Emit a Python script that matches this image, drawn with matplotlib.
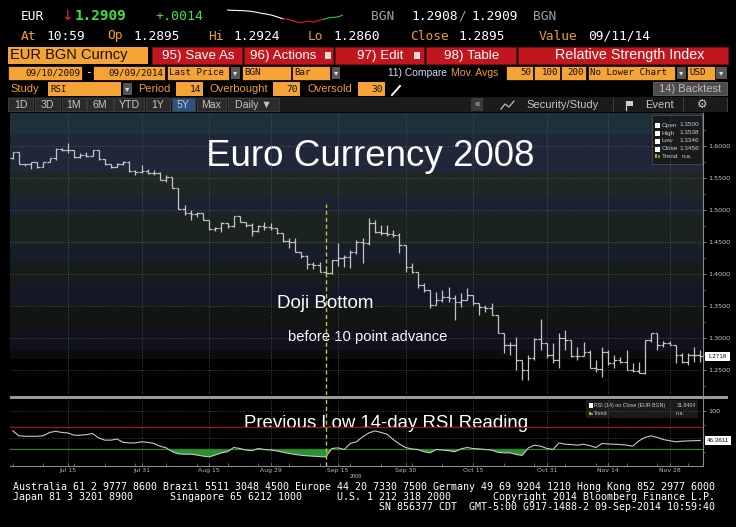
import numpy as np
import pandas as pd
import matplotlib
matplotlib.use("Agg")
import matplotlib.pyplot as plt
from matplotlib.patches import Rectangle
from matplotlib.ticker import FixedLocator, MultipleLocator

W, H = 736, 527

# ---- data ----
dates = pd.bdate_range("2008-07-02", periods=113)

opens = [1.5807, 1.5911, 1.5714, 1.5714, 1.5745, 1.5677, 1.5755, 1.5807, 1.5953, 1.5937,
         1.5937, 1.5833, 1.5859, 1.5849, 1.5937, 1.5797, 1.5714, 1.5677, 1.5714, 1.5755,
         1.5609, 1.5589, 1.5609, 1.5573, 1.5573, 1.5469, 1.5521, 1.5349, 1.5016, 1.4948,
         1.4937, 1.4948, 1.4844, 1.4703, 1.4714, 1.4792, 1.4755, 1.4911, 1.4818, 1.4766,
         1.4672, 1.4755, 1.4740, 1.4714, 1.4635, 1.4516, 1.4505, 1.4349, 1.4286, 1.4151,
         1.4141, 1.4026, 1.4010, 1.4219, 1.4245, 1.4271, 1.4339, 1.4505, 1.4479, 1.4792,
         1.4651, 1.4635, 1.4620, 1.4609, 1.4453, 1.4115, 1.4036, 1.3828, 1.3750, 1.3516,
         1.3594, 1.3646, 1.3620, 1.3568, 1.3594, 1.3672, 1.3542, 1.3490, 1.3464, 1.3359,
         1.3073, 1.2891, 1.2891, 1.2656, 1.2500, 1.2682, 1.2979, 1.2927, 1.2734, 1.2656,
         1.2995, 1.2969, 1.2719, 1.2719, 1.2786, 1.2526, 1.2510, 1.2786, 1.2604, 1.2656,
         1.2630, 1.2500, 1.2490, 1.2458, 1.2969, 1.3073, 1.2891, 1.2917, 1.2891, 1.2734,
         1.2630, 1.2734, 1.2734]
highs = [1.5911, 1.5911, 1.5724, 1.5755, 1.5745, 1.5755, 1.5807, 1.5964, 1.5974, 1.6042,
         1.5937, 1.5885, 1.5901, 1.5937, 1.5937, 1.5797, 1.5714, 1.5729, 1.5766, 1.5766,
         1.5625, 1.5703, 1.5636, 1.5625, 1.5589, 1.5547, 1.5521, 1.5349, 1.5078, 1.5000,
         1.4974, 1.4948, 1.4844, 1.4740, 1.4807, 1.4792, 1.4911, 1.4911, 1.4818, 1.4792,
         1.4766, 1.4818, 1.4792, 1.4714, 1.4635, 1.4557, 1.4557, 1.4349, 1.4297, 1.4193,
         1.4193, 1.4063, 1.4219, 1.4479, 1.4297, 1.4375, 1.4531, 1.4557, 1.4870, 1.4844,
         1.4766, 1.4766, 1.4688, 1.4635, 1.4453, 1.4167, 1.4036, 1.3854, 1.3750, 1.3724,
         1.3750, 1.3802, 1.3672, 1.3698, 1.3776, 1.3672, 1.3542, 1.3516, 1.3542, 1.3359,
         1.3073, 1.2943, 1.3021, 1.2656, 1.2734, 1.2995, 1.3292, 1.2927, 1.2917, 1.3073,
         1.3125, 1.2969, 1.2864, 1.2943, 1.2813, 1.2656, 1.2864, 1.2813, 1.2734, 1.2708,
         1.2813, 1.2604, 1.2630, 1.2969, 1.3083, 1.3083, 1.2958, 1.2958, 1.2891, 1.2760,
         1.2771, 1.2864, 1.2813]
lows = [1.5797, 1.5714, 1.5693, 1.5636, 1.5661, 1.5670, 1.5745, 1.5781, 1.5922, 1.5885,
        1.5818, 1.5818, 1.5828, 1.5840, 1.5781, 1.5703, 1.5661, 1.5670, 1.5703, 1.5599,
        1.5547, 1.5573, 1.5557, 1.5547, 1.5469, 1.5432, 1.5339, 1.5016, 1.4922, 1.4844,
        1.4896, 1.4844, 1.4688, 1.4672, 1.4651, 1.4714, 1.4740, 1.4807, 1.4740, 1.4599,
        1.4661, 1.4688, 1.4688, 1.4620, 1.4505, 1.4401, 1.4349, 1.4245, 1.4078, 1.4078,
        1.4026, 1.3995, 1.3995, 1.4130, 1.4115, 1.4089, 1.4310, 1.4167, 1.4453, 1.4635,
        1.4609, 1.4599, 1.4583, 1.4323, 1.4036, 1.4010, 1.3776, 1.3724, 1.3464, 1.3516,
        1.3568, 1.3568, 1.3281, 1.3490, 1.3594, 1.3516, 1.3359, 1.3411, 1.3359, 1.3073,
        1.2760, 1.2734, 1.2500, 1.2344, 1.2344, 1.2656, 1.2813, 1.2682, 1.2604, 1.2526,
        1.2813, 1.2708, 1.2656, 1.2719, 1.2526, 1.2474, 1.2396, 1.2578, 1.2526, 1.2604,
        1.2500, 1.2474, 1.2448, 1.2440, 1.2943, 1.2813, 1.2864, 1.2891, 1.2604, 1.2604,
        1.2578, 1.2630, 1.2630]
closes = [1.5911, 1.5714, 1.5714, 1.5745, 1.5677, 1.5755, 1.5807, 1.5953, 1.5937, 1.5937,
          1.5833, 1.5859, 1.5849, 1.5937, 1.5797, 1.5714, 1.5677, 1.5714, 1.5755, 1.5609,
          1.5589, 1.5609, 1.5573, 1.5573, 1.5469, 1.5521, 1.5349, 1.5016, 1.4948, 1.4937,
          1.4948, 1.4844, 1.4703, 1.4714, 1.4792, 1.4755, 1.4911, 1.4818, 1.4766, 1.4672,
          1.4755, 1.4740, 1.4714, 1.4635, 1.4516, 1.4505, 1.4349, 1.4286, 1.4151, 1.4141,
          1.4026, 1.4010, 1.4219, 1.4245, 1.4271, 1.4339, 1.4505, 1.4479, 1.4792, 1.4651,
          1.4635, 1.4620, 1.4609, 1.4453, 1.4115, 1.4036, 1.3828, 1.3750, 1.3516, 1.3594,
          1.3646, 1.3620, 1.3568, 1.3594, 1.3672, 1.3542, 1.3490, 1.3464, 1.3359, 1.3073,
          1.2891, 1.2891, 1.2656, 1.2500, 1.2682, 1.2979, 1.2927, 1.2734, 1.2656, 1.2995,
          1.2969, 1.2719, 1.2719, 1.2786, 1.2526, 1.2510, 1.2786, 1.2604, 1.2656, 1.2630,
          1.2500, 1.2490, 1.2458, 1.2969, 1.3073, 1.2891, 1.2917, 1.2891, 1.2734, 1.2630,
          1.2734, 1.2734, 1.2718]

rsi = [64, 55, 54, 54, 54, 55, 61, 63, 61, 60,
       56, 56, 57, 59, 51, 47, 47, 49, 43, 42,
       42, 44, 43, 41, 36, 33, 26, 22, 21.5, 21.5,
       20, 18, 16.6, 20, 24, 26, 33.6, 31.8, 29, 28,
       31.8, 30, 29, 27.5, 25, 23, 21, 19.5, 18.5, 17.8,
       17, 16.6, 31.8, 33, 30, 41, 44, 53, 60, 63.8,
       61, 57.6, 48, 40, 33.6, 31, 30, 26, 24, 30,
       29, 28, 25.8, 31, 33.6, 31.8, 31, 30, 29, 25,
       24, 24, 21, 19.2, 33, 37.8, 36, 32, 30, 42,
       39.6, 39, 37.8, 39.6, 37, 33.6, 41, 40, 39.6, 39,
       38, 36, 45.6, 52, 54.8, 52, 48, 46, 44, 45,
       45.6, 46, 46.4]

tick_dates = ["2008-07-15", "2008-07-31", "2008-08-15", "2008-08-29", "2008-09-15",
              "2008-09-30", "2008-10-15", "2008-10-31", "2008-11-14", "2008-11-28"]
tick_labels = ["Jul 15", "Jul 31", "Aug 15", "Aug 29", "Sep 15",
               "Sep 30", "Oct 15", "Oct 31", "Nov 14", "Nov 28"]
price_ticks = [1.25, 1.30, 1.35, 1.40, 1.45, 1.50, 1.55, 1.60]
price_labels = ["1.2500", "1.3000", "1.3500", "1.4000", "1.4500", "1.5000", "1.5500", "1.6000"]
doji_date = "2008-09-11"

# header sparkline (intraday, screen offsets)
spark_white = [32, 33, 33, 34, 34, 35, 36, 38, 40, 43, 45, 47, 50, 54, 58, 62]
spark_red = [62, 63, 66, 70, 74, 75, 72, 70, 73, 70, 66, 64]
spark_green = [64, 60, 58, 57, 55, 50]

# ---- colours / fonts ----
ORANGE = '#f5a236'
AMBER = '#f09a2c'
RED = '#c2161e'
UI = ['Liberation Sans', 'DejaVu Sans']
MONO = ['DejaVu Sans Mono']
NARROW = ['Liberation Sans', 'DejaVu Sans']

fig = plt.figure(figsize=(W / 100, H / 100), dpi=100, facecolor='black')
bg = fig.add_axes([0, 0, 1, 1])
bg.set_xlim(0, W)
bg.set_ylim(H, 0)
bg.axis('off')


def box(x0, y0, x1, y1, color, ec='none', lw=0, z=1):
    bg.add_patch(Rectangle((x0, y0), x1 - x0, y1 - y0, facecolor=color,
                           edgecolor=ec, linewidth=lw, zorder=z))


def txt(x, y, s, color='white', size=8, ha='left', family=UI, weight='normal', z=5):
    bg.text(x, y, s, color=color, fontsize=size, ha=ha, va='center',
            family=family, fontweight=weight, zorder=z)


# row 1
txt(21, 16, 'EUR', 'white', 9.3, family=MONO)
txt(61, 16, '\u2193', '#e8302a', 10, family=['DejaVu Sans'])
txt(75, 16, '1.2909', '#3fe03f', 10.4, family=MONO, weight='bold')
txt(155, 16, '+.0014', '#3fe03f', 9.6, family=MONO)
txt(371, 16, 'BGN', '#a0a0a0', 9.3, family=MONO)
txt(411, 16, '1.2908', 'white', 9.3, family=MONO)
txt(458, 16, '/', '#a0a0a0', 9.3, family=MONO)
txt(471, 16, '1.2909', 'white', 9.3, family=MONO)
txt(533, 16, 'BGN', '#a0a0a0', 9.3, family=MONO)

sp = fig.add_axes([222 / W, 1 - 24 / H, 126 / W, 16 / H])
sp.axis('off')
nw, nr = len(spark_white), len(spark_red)
sp.plot(range(nw), spark_white, color='white', lw=0.8)
sp.plot(range(nw - 1, nw - 1 + nr), spark_red, color='#e02020', lw=0.8)
sp.plot(range(nw + nr - 2, nw + nr - 2 + len(spark_green)), spark_green, color='#20d020', lw=0.8)
sp.set_ylim(80, 25)

# row 2
for x, s, c in [(21, 'At', AMBER), (46, '10:59', 'white'), (107, 'Op', AMBER), (133, '1.2895', 'white'),
                (208, 'Hi', AMBER), (233, '1.2924', 'white'), (308, 'Lo', AMBER), (333, '1.2860', 'white'),
                (410, 'Close', AMBER), (458, '1.2895', 'white'), (539, 'Value', AMBER),
                (588, '09/11/14', 'white')]:
    txt(x, 36, s, c, 9.3, family=MONO)

# row 3 - buttons
box(8, 47, 148, 64, ORANGE)
txt(10, 55.5, 'EUR BGN Curncy', '#111111', 10.5)
for x0, x1, label, tx in [(152, 242, '95) Save As', 162), (244, 333, '96) Actions', 250),
                          (335, 424, '97) Edit', 357), (426, 516, '98) Table', 444)]:
    box(x0, 47, x1, 64, RED, ec='#7a0a10', lw=0.6)
    txt(tx, 55.5, label, 'white', 9.6)
box(325, 52, 331, 59, '#dddddd', z=2)
box(414, 52, 420, 59, '#dddddd', z=2)
box(518, 47, 728, 64, RED, ec='#7a0a10', lw=0.6)
txt(555, 55.5, 'Relative Strength Index', 'white', 10.3)

# row 4
R4 = 72.5
for x0, x1, label, ha in [(8, 82, '09/10/2009', 'right'), (93, 165, '09/09/2014', 'right'),
                          (167, 229, 'Last Price', 'left'), (242, 291, 'BGN', 'left'),
                          (292, 330, 'Bar', 'left'), (506, 533, '50', 'right'),
                          (534, 560, '100', 'right'), (561, 586, '200', 'right'),
                          (588, 675, 'No Lower Chart', 'left'), (687, 715, 'USD', 'left')]:
    box(x0, 66, x1, 80, ORANGE, ec='black', lw=0.5)
    txt(x1 - 2 if ha == 'right' else x0 + 2, R4, label, '#111111', 6.6, ha=ha, family=MONO)
txt(85, R4, '-', 'white', 8, family=MONO)
for x0, x1 in [(231, 240), (332, 340), (677, 686), (716, 727)]:
    box(x0, 67, x1, 79, '#555555')
    txt((x0 + x1) / 2, R4, '\u25be', '#dddddd', 6, ha='center', family=['DejaVu Sans'])
txt(388, R4, '11) Compare', '#d0d8ff', 7.4)
txt(451, R4, 'Mov. Avgs', AMBER, 7.6)

# row 5
R5 = 89
txt(10, R5, 'Study', AMBER, 8)
txt(138, R5, 'Period', AMBER, 8)
txt(210, R5, 'Overbought', AMBER, 8)
txt(308, R5, 'Oversold', AMBER, 8)
box(48, 82, 121, 96, ORANGE)
txt(50, R5, 'RSI', '#111111', 6.6, family=MONO)
box(123, 83, 132, 95, '#555555')
txt(127.5, R5, '\u25be', '#dddddd', 6, ha='center', family=['DejaVu Sans'])
for x0, x1, label in [(176, 203, '14'), (273, 300, '70'), (358, 385, '30')]:
    box(x0, 82, x1, 96, ORANGE)
    txt(x1 - 2, R5, label, '#111111', 6.8, ha='right', family=MONO)
bg.plot([392, 400], [95, 86], color='white', lw=1.4, zorder=5)
box(653, 82, 727, 95, '#4c4c4c', ec='#777777', lw=0.5)
txt(690, 88.5, '14) Backtest', '#bbbbbb', 8, ha='center')

# row 6 - tab bar
box(8, 97, 728, 112, '#1b1b1b')
for label, x0, x1 in [('1D', 8, 33), ('3D', 35, 60), ('1M', 62, 86), ('6M', 87, 113),
                      ('YTD', 114, 144), ('1Y', 146, 170), ('5Y', 172, 195), ('Max', 197, 226),
                      ('Daily \u25bc', 228, 279)]:
    box(x0, 98, x1, 111, '#2d5286' if label == '5Y' else '#2b2b2b', ec='#454545', lw=0.5)
    txt((x0 + x1) / 2, 104.5, label, '#c4c4c4', 7.6, ha='center')
box(471, 98, 483, 111, '#3a3a3a')
txt(477, 104.5, '\u00ab', '#cccccc', 7, ha='center')
for xs in [613, 683, 727]:
    bg.plot([xs, xs], [98, 111], color='#444444', lw=0.6, zorder=4)
bg.plot([501, 505, 509, 514], [109, 104, 107, 101], color='#bbbbbb', lw=0.9, zorder=5)
txt(526, 104.5, 'Security/Study', '#c4c4c4', 8)
box(626, 101, 633, 106, '#cccccc', z=4)
bg.plot([626, 626], [101, 110], color='#cccccc', lw=0.9, zorder=5)
txt(645, 104.5, 'Event', '#c4c4c4', 8)
txt(702, 104.5, '\u2699', '#cccccc', 8.5, ha='center', family=['DejaVu Sans'])

# chart background bands
bands = [(113, 134, '#1e3039'), (134, 172, '#1f2739'), (172, 197, '#1e2725'), (197, 214, '#1b2333'),
         (214, 245, '#1b2320'), (245, 262, '#171e2b'), (262, 285, '#151c19'), (285, 305, '#141826'),
         (305, 322, '#111613'), (322, 330, '#131313'), (330, 350, '#10111a'), (350, 359, '#0b0d0d')]
for y0, y1, c in bands:
    box(10, y0, 703, y1, c, z=0)
box(10, 396, 728, 398.5, '#9a9a9a', z=3)

x = np.arange(len(dates))
tick_pos = [dates.get_loc(pd.Timestamp(d)) for d in tick_dates]
doji = dates.get_loc(pd.Timestamp(doji_date))
xlim = (-0.44, 112.45)
grid_kw = dict(color='#56606a', lw=0.6, linestyle=(0, (1, 2)))

# ---- price panel ----
ax = fig.add_axes([10 / W, 1 - 395 / H, 693 / W, 282 / H])
ax.set_facecolor('none')
ax.set_xlim(*xlim)
ax.set_ylim(1.2109, 1.6516)
ax.vlines(x, lows, highs, color='#c4c4c4', lw=0.9)
ax.hlines(opens, x - 0.45, x, color='#c4c4c4', lw=0.9)
ax.hlines(closes, x, x + 0.45, color='#c4c4c4', lw=0.9)
for yv in price_ticks:
    ax.axhline(yv, **grid_kw, zorder=0)
for p in tick_pos:
    ax.axvline(p, **grid_kw, zorder=0)
ax.vlines(doji, 1.2109, 1.5094, color='#c3c334', lw=1, linestyles=(0, (3, 2)))
for s in ['top', 'left', 'bottom']:
    ax.spines[s].set_visible(False)
ax.spines['right'].set_color('#8a8a8a')
ax.spines['right'].set_linewidth(0.8)
ax.set_xticks([])
ax.yaxis.tick_right()
ax.yaxis.set_major_locator(FixedLocator(price_ticks))
ax.set_yticklabels(price_labels)
ax.yaxis.set_minor_locator(FixedLocator([t + 0.025 for t in price_ticks] + [1.225]))
ax.tick_params(axis='y', which='major', colors='#8a8a8a', labelcolor='#cccccc',
               labelsize=4.6, length=2.5, width=0.6, pad=1.5)
ax.tick_params(axis='y', which='minor', colors='#8a8a8a', length=1.5, width=0.5)

# ---- RSI panel ----
ax2 = fig.add_axes([10 / W, 1 - 466 / H, 693 / W, 68 / H])
ax2.set_facecolor('none')
ax2.set_xlim(*xlim)
ax2.set_ylim(0, 123.6)
rs = np.array(rsi)
ax2.fill_between(x, rs, 30, where=rs < 30, interpolate=True, color='#2b9230', lw=0)
ax2.axhline(70, color='#96171b', lw=0.9)
ax2.axhline(30, color='#1f8a22', lw=0.9)
for yv in [50, 100]:
    ax2.axhline(yv, **grid_kw, zorder=0)
for p in tick_pos:
    ax2.axvline(p, **grid_kw, zorder=0)
ax2.plot(x, rs, color='#c8c8c8', lw=0.8)
ax2.axvline(doji, color='#c3c334', lw=1, linestyle=(0, (3, 2)))
ax2.spines['top'].set_visible(False)
ax2.spines['left'].set_visible(False)
ax2.spines['right'].set_color('#8a8a8a')
ax2.spines['bottom'].set_color('#8a8a8a')
ax2.spines['right'].set_linewidth(0.8)
ax2.spines['bottom'].set_linewidth(0.8)
ax2.yaxis.tick_right()
ax2.set_yticks([100])
ax2.set_yticklabels(['100'])
ax2.yaxis.set_minor_locator(FixedLocator([25, 75]))
ax2.tick_params(axis='y', which='major', colors='#8a8a8a', labelcolor='#cccccc',
                labelsize=4.6, length=2.5, width=0.6, pad=1.5)
ax2.tick_params(axis='y', which='minor', colors='#8a8a8a', length=1.5, width=0.5)
ax2.set_xticks(tick_pos)
ax2.set_xticklabels(tick_labels)
ax2.xaxis.set_minor_locator(MultipleLocator(5))
ax2.tick_params(axis='x', which='both', colors='#8a8a8a', labelcolor='#bbbbbb',
                labelsize=4.4, length=2, width=0.5, pad=1.5, direction='in')
txt(350, 477, '2008', '#bbbbbb', 4)

# ---- legends and last-value flags ----
box(652, 115, 702, 164, '#181a1c', ec='#4a4a4a', lw=0.6, z=6)
for k, (name, val) in enumerate([('Open', '1.3500'), ('High', '1.3538'), ('Low', '1.3346'),
                                 ('Close', '1.3456')]):
    yy = 125 + k * 8
    box(655, yy - 2.5, 660, yy + 2.5, 'white', z=7)
    txt(662, yy, name, '#cccccc', 4.6, z=7)
    txt(699, yy, val, '#cccccc', 4.6, ha='right', z=7)
box(655, 153.5, 657, 158, '#a8b020', z=7)
box(658, 155, 660, 158, '#3fae3f', z=7)
txt(662, 156, 'Trend', '#cccccc', 4.6, z=7)
txt(682, 156, 'n.a.', '#cccccc', 4.6, z=7)

box(586, 400, 698, 418, '#1a1a1a', z=6)
box(589, 403, 593, 408, 'white', z=7)
txt(594, 405.5, 'RSI (14) on Close (EUR BGN)', '#cccccc', 3.8, z=7)
txt(696, 405.5, '31.8404', '#cccccc', 3.8, ha='right', z=7)
box(589, 412, 590.5, 415, '#a8b020', z=7)
box(591, 413, 592.5, 415, '#3fae3f', z=7)
txt(594, 413.5, 'Trend', '#cccccc', 3.8, z=7)
txt(676, 413.5, 'n.a.', '#cccccc', 3.8, z=7)

box(705, 352, 730, 360.5, 'white', z=6)
txt(717.5, 356.2, '1.2718', '#111111', 4.5, ha='center', z=7)
box(705, 436, 731, 444.5, 'white', z=6)
txt(718, 440.2, '46.3611', '#111111', 4.5, ha='center', z=7)

# ---- annotations ----
txt(370, 157, 'Euro Currency 2008', 'white', 26.5, ha='center', family=NARROW, z=8)
txt(325, 303, 'Doji Bottom', 'white', 13.6, ha='center', family=NARROW, z=8)
txt(368, 337, 'before 10 point advance', 'white', 10.6, ha='center', family=NARROW, z=8)
txt(386, 424, 'Previous Low 14-day RSI Reading', 'white', 13.4, ha='center', family=NARROW, z=8)

# ---- footer ----
txt(13, 487.5, 'Australia 61 2 9777 8600 Brazil 5511 3048 4500 Europe 44 20 7330 7500 '
               'Germany 49 69 9204 1210 Hong Kong 852 2977 6000', 'white', 7.2, family=MONO)
txt(13, 497.5, 'Japan 81 3 3201 8900', 'white', 7.2, family=MONO)
txt(170, 497.5, 'Singapore 65 6212 1000', 'white', 7.2, family=MONO)
txt(337, 497.5, 'U.S. 1 212 318 2000', 'white', 7.2, family=MONO)
txt(715, 497.5, 'Copyright 2014 Bloomberg Finance L.P.', 'white', 7.2, ha='right', family=MONO)
txt(715, 507.3, 'SN 856377 CDT  GMT-5:00 G917-1488-2 09-Sep-2014 10:59:40', 'white', 7.2,
    ha='right', family=MONO)

fig.savefig('out.png', dpi=100, facecolor='black')
